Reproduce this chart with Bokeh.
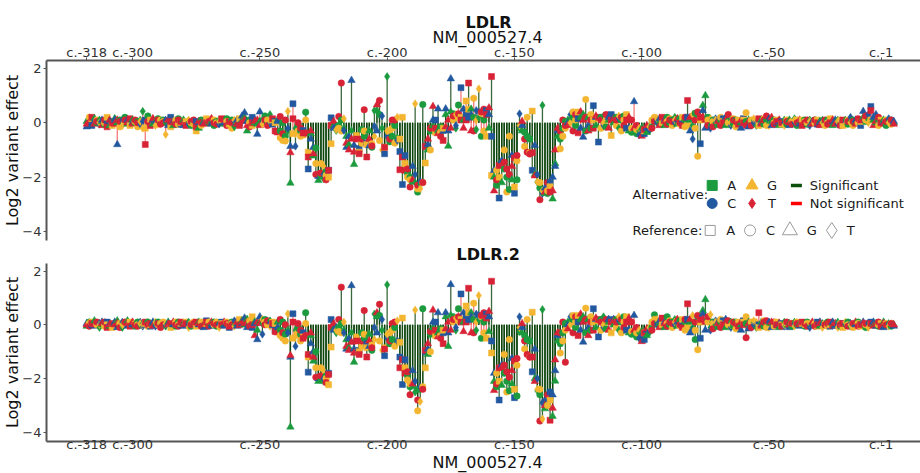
from bokeh.plotting import figure
from bokeh.models import Range1d, FixedTicker, Title, Label, ColumnDataSource
from bokeh.layouts import column
from bokeh.embed import file_html
from bokeh.resources import INLINE

# ---------------- data ----------------
positions = list(range(-318, 0))  # c.-318 ... c.-1
ref_seq = ("GCAGCTGCAG" "AGGCTCGAGC" "CTTACAGTCC" "CTGAGCCAGA" "TCCAGCGACG"
           "CCTAGCACTG" "AGGGCAGGGT" "CCTAAGCCCT" "GATCCACAGG" "CGCTCAAGTC"
           "CTGGGGAACC" "AGCTGCTATC" "CCTAAACCGT" "CTCAGCGAGC" "AGGGCTCAGA"
           "AGCTTCCAGA" "GCAGCCCGAC" "TGCCCAGTCT" "GCAGGGCCCG" "TCCAGGCGCA"
           "GACTCGAGCT" "CCAGCGCTGA" "GTCCTGAGCC" "CTGCACAGTC" "CAGGCTCTGC"
           "AGCTCCAGAC" "GCTTAGCCTG" "CAGATCGCTC" "GACCTGCAGT" "CCAGGTCATC"
           "TCGCAGCTAG" "GCAGCTCG")
bases = ["A", "C", "G", "T"]

# log2 effects, one triple per position (alternatives in A, C, G, T order, reference skipped)
ldlr_effect = [
    [0.05,-0.15,-0.05],[0.1,0.2,0.0],[-0.1,0.15,0.2],[0.15,0.05,-0.05],[0.0,0.1,0.05],
    [0.1,-0.05,0.0],[0.05,0.1,-0.1],[-0.05,0.0,0.1],[0.0,0.2,-0.15],[-0.1,0.05,0.1],
    [0.05,-0.1,0.0],[0.15,0.1,-0.05],[0.0,-0.8,0.1],[0.1,-0.15,0.05],[-0.05,0.1,-0.1],
    [0.2,0.0,0.1],[-0.05,0.1,0.0],[0.05,-0.1,0.15],[0.1,0.0,-0.05],[0.0,0.05,0.1],
    [0.05,-0.15,0.0],[0.1,-0.05,0.05],[0.42,0.05,-0.2],[0.1,-0.2,-0.8],[0.25,0.0,0.05],
    [0.0,0.1,-0.1],[-0.05,0.1,0.15],[0.05,0.0,-0.1],[0.15,-0.05,0.1],[0.0,0.1,-0.05],
    [0.1,0.05,0.0],[0.0,0.1,-0.43],[0.05,-0.1,0.1],[0.2,-0.15,0.05],[-0.1,0.05,0.0],
    [0.0,0.1,-0.05],[0.15,-0.05,0.1],[-0.05,0.0,0.05],[0.1,-0.1,0.0],[0.0,0.05,-0.1],
    [0.05,-0.05,0.1],[-0.1,0.0,0.05],[0.0,-0.05,0.1],[0.05,-0.3,-0.15],[-0.2,0.0,0.05],
    [0.1,-0.1,0.0],[0.05,0.0,-0.05],[0.1,0.15,0.0],[0.0,0.1,0.05],[0.05,-0.05,0.15],
    [-0.1,0.1,0.0],[0.05,0.0,-0.05],[0.1,-0.05,0.05],[0.0,0.1,0.15],[-0.05,0.0,0.1],
    [0.15,0.05,-0.1],[0.0,-0.05,0.05],[0.1,-0.2,0.0],[-0.15,0.05,0.1],[0.05,0.1,-0.05],
    [0.0,0.15,-0.1],[0.1,0.25,0.05],[0.2,0.37,0.1],[-0.3,0.05,-0.1],[0.1,0.0,-0.15],
    [0.2,-0.1,0.0],[0.0,0.1,0.05],[-0.05,-0.42,0.1],[0.05,0.4,-0.1],[0.1,0.0,-0.05],
    [0.25,0.05,0.1],[0.0,0.1,-0.1],[0.3,0.0,0.05],[-0.05,0.1,0.15],[0.05,0.0,-0.3],
    [0.1,0.05,-0.37],[-0.3,-0.55,0.23],[0.0,-0.65,-0.4],[-0.5,-0.67,0.1],[-0.3,-0.2,0.42],
    [-2.22,-0.87,-1.1],[0.7,-0.4,0.15],[-0.2,-0.86,-0.4],[-0.07,-0.3,0.0],[-0.3,-0.5,-0.2],
    [-0.28,-0.45,-0.38],[0.39,0.1,-0.38],[-1.7,-1.08,-1.26],[-0.4,-0.6,-0.3],[-1.22,-0.9,-1.14],
    [-0.93,-1.5,-1.9],[-2.12,-1.97,-1.9],[-1.95,-1.5,-1.85],[-2.05,-1.9,-1.6],[-1.8,-1.94,-2.1],
    [-1.75,-2.0,-1.75],[0.18,-0.77,-0.1],[-0.1,-0.2,0.05],[-0.28,-0.15,-0.25],[-0.1,-0.2,0.23],
    [0.1,-0.3,1.46],[-0.2,-0.28,0.15],[-0.5,-0.9,-0.75],[-0.8,-0.5,-1.0],[-0.3,1.56,-0.6],
    [-1.53,-0.83,-1.08],[-0.5,-0.47,-0.6],[-0.95,-1.08,-1.14],[-0.25,-0.75,-0.6],[-0.5,-0.3,0.48],
    [-0.75,-0.8,-1.26],[-0.3,-0.85,-0.6],[-0.9,-0.77,-0.85],[0.45,-0.13,-0.5],[0.45,-0.3,0.66],
    [0.3,-0.65,0.82],[-0.2,0.25,-1.0],[-1.14,-0.9,-0.9],[1.7,-0.5,-0.3],[-0.7,-0.28,-0.6],
    [-0.5,-0.2,0.1],[-0.1,-0.75,0.1],[-0.55,-0.65,0.2],[-1.06,-0.6,-1.73],[-2.27,0.2,-1.26],
    [-1.2,-1.5,-1.75],[-1.87,-2.0,-1.7],[-2.0,-2.1,-2.36],[-2.18,-1.6,-2.1],[-2.2,-1.9,0.7],
    [-2.55,-2.43,-2.3],[-2.25,-2.15,-2.43],[0.67,-2.2,-2.2],[-0.87,-1.48,-0.87],[-1.0,-0.8,-0.6],
    [-0.3,-1.0,-0.2],[-0.1,0.1,0.6],[0.1,-0.35,-0.2],[-0.3,0.51,-0.4],[-0.15,-0.35,-0.5],
    [-0.28,-0.2,-0.65],[0.3,0.51,-0.15],[-0.86,-0.3,0.1],[0.4,1.62,-0.2],[0.33,0.1,0.25],
    [-0.2,-0.1,0.3],[0.65,0.2,0.33],[1.29,0.2,0.1],[0.1,0.5,-0.2],[0.3,0.8,0.1],
    [0.2,0.5,1.46],[0.5,0.3,-0.3],[0.2,0.9,-0.3],[-0.25,0.45,0.1],[0.2,0.4,1.25],
    [-0.5,0.35,0.4],[0.1,-0.3,0.5],[0.45,-0.5,0.3],[-0.2,0.3,0.55],[-0.5,-1.94,1.7],
    [-2.0,-1.75,-2.5],[-2.3,-1.75,-2.1],[-2.77,-2.0,-1.57],[-2.2,-1.4,-1.57],[-1.7,-1.0,-1.45],
    [-2.0,-2.55,-1.7],[-2.45,-0.5,-1.9],[-2.1,-1.2,-1.6],[-2.59,-2.36,-1.3],[-2.1,-1.4,-1.2],
    [-0.2,0.33,-0.1],[-0.3,-0.1,0.05],[-0.35,-0.87,-0.6],[-0.5,0.2,-1.08],[-0.6,-1.1,-1.15],
    [-1.75,0.43,-1.1],[-1.9,-0.83,-1.95],[-2.18,-1.9,-2.18],[-2.4,-2.2,-2.83],[0.64,-2.6,-2.5],
    [-2.6,-2.4,-2.55],[-2.6,-2.5,-2.2],[-2.2,-2.35,-2.55],[-2.8,-2.0,-2.5],[-1.5,-1.6,-1.0],
    [-0.5,-0.3,-0.2],[-0.6,-0.96,-0.3],[-0.2,-0.5,0.1],[0.05,-0.2,-0.1],[0.1,0.0,-0.1],
    [0.1,0.3,0.0],[0.2,0.4,-0.3],[-0.1,0.1,0.3],[0.15,0.4,-0.37],[0.2,-0.2,0.4],
    [0.3,-0.53,0.1],[-0.3,0.86,0.2],[0.2,-0.1,-0.3],[-0.2,0.3,0.1],[0.63,0.1,-0.2],
    [-0.1,0.2,0.25],[-0.71,0.15,0.2],[0.2,-0.2,0.1],[0.25,-0.1,0.0],[-0.15,0.1,0.3],
    [0.1,0.2,-0.2],[0.3,-0.47,0.1],[0.0,0.2,0.15],[0.2,-0.1,0.1],[-0.2,0.15,0.25],
    [0.1,-0.3,0.2],[0.25,0.1,-0.1],[-0.2,0.3,0.1],[-0.3,-0.2,0.2],[-0.35,-0.2,0.1],
    [-0.3,0.78,-0.2],[-0.4,-0.25,-0.1],[-0.3,-0.45,-0.2],[-0.2,-0.35,-0.49],[-0.4,-0.3,-0.25],
    [-0.35,-0.2,-0.1],[-0.3,-0.25,-0.15],[-0.15,0.1,-0.2],[0.15,0.2,0.05],[0.1,0.0,0.15],
    [0.05,0.15,-0.1],[0.1,0.0,0.2],[-0.1,0.1,0.05],[0.2,0.05,-0.05],[0.0,0.15,0.1],
    [0.1,-0.1,0.05],[0.2,0.0,0.1],[-0.05,0.1,0.15],[0.15,-0.05,0.0],[0.0,0.2,-0.1],
    [0.1,-0.15,0.2],[0.2,-0.1,0.82],[0.1,-0.3,0.2],[-0.1,-0.6,0.3],[0.35,-0.2,0.1],
    [0.3,-1.23,0.4],[-0.77,0.1,0.2],[0.64,0.45,0.2],[1.0,-0.2,0.1],[0.2,0.1,-0.1],
    [-0.1,-0.2,0.15],[0.1,0.05,-0.15],[0.0,0.15,0.1],[-0.1,0.1,0.05],[0.1,0.2,-0.1],
    [0.15,0.05,0.0],[-0.1,0.2,0.1],[0.05,0.0,0.3],[0.1,-0.1,0.0],[-0.05,0.15,0.1],
    [0.1,-0.15,0.05],[0.05,0.1,-0.05],[0.0,-0.2,0.1],[0.15,0.1,0.0],[0.05,0.37,-0.1],
    [0.1,-0.15,0.05],[0.0,0.1,-0.1],[0.1,0.0,0.15],[-0.1,0.05,0.1],[0.0,-0.1,0.15],
    [0.1,0.0,-0.05],[-0.05,0.15,0.1],[0.1,-0.1,0.25],[0.0,0.15,-0.1],[0.05,-0.1,0.2],
    [0.1,0.0,-0.05],[0.0,0.1,0.05],[-0.1,0.05,0.1],[0.05,-0.05,0.0],[0.1,0.0,-0.1],
    [-0.05,0.1,0.05],[0.1,-0.1,0.0],[0.0,0.05,-0.05],[0.15,0.0,0.1],[-0.1,0.1,0.0],
    [0.05,-0.05,0.1],[0.0,0.1,-0.1],[0.1,0.05,0.0],[-0.05,0.0,0.1],[0.1,-0.1,0.05],
    [0.0,0.05,-0.05],[0.1,0.0,0.1],[-0.05,0.1,0.0],[0.05,0.0,-0.1],[0.1,0.05,0.0],
    [0.0,-0.1,0.1],[0.1,0.0,-0.05],[0.05,0.15,0.0],[-0.1,0.05,0.1],[0.0,0.1,-0.05],
    [0.1,-0.05,0.05],[0.05,0.1,-0.1],[0.0,-0.1,0.1],[0.1,0.0,-0.05],[-0.05,0.1,0.05],
    [0.05,0.2,0.0],[0.1,-0.1,0.05],[0.0,0.1,-0.05],[0.1,0.0,0.15],[-0.1,0.05,0.1],
    [0.2,0.42,0.1],[0.05,0.1,0.25],[0.1,0.3,0.0],[0.6,0.1,0.45],[0.1,0.2,-0.1],
    [0.0,0.3,0.05],[0.1,-0.1,0.2],[0.05,0.1,0.0],[0.1,0.0,-0.05],[-0.1,0.1,0.05],
    [0.05,0.15,0.0],[0.1,-0.05,0.1],[0.0,0.05,-0.05],
]

ldlr2_effect = [
    [-0.05,0.05,0.0],[0.1,0.05,-0.05],[0.0,0.1,0.05],[0.15,-0.05,0.0],[0.05,0.0,0.1],
    [-0.1,0.05,0.0],[0.0,0.1,0.05],[0.05,-0.05,0.1],[0.1,0.0,-0.1],[-0.05,0.05,0.0],
    [0.0,-0.1,0.05],[0.05,0.1,0.0],[0.15,-0.1,0.05],[0.0,0.05,-0.1],[-0.1,0.1,0.0],
    [0.05,0.0,0.1],[0.15,-0.05,0.05],[0.0,0.1,-0.05],[0.05,0.0,0.1],[-0.05,0.05,0.0],
    [0.1,0.0,-0.05],[0.0,0.1,0.05],[0.05,-0.05,0.0],[0.0,0.05,0.1],[0.1,-0.05,0.0],
    [-0.05,0.0,0.05],[0.05,0.1,-0.05],[0.0,-0.05,0.1],[0.1,0.0,0.05],[0.05,0.05,-0.1],
    [0.0,0.1,0.0],[-0.05,0.0,0.05],[0.1,0.05,0.0],[0.0,-0.1,0.05],[0.05,0.0,0.1],
    [-0.05,0.1,0.0],[0.1,0.0,-0.05],[0.0,0.05,0.1],[0.05,-0.05,0.0],[0.0,0.1,0.05],
    [0.1,0.0,-0.1],[-0.05,0.05,0.0],[0.05,0.1,0.05],[0.0,-0.05,0.1],[0.1,0.0,0.05],
    [0.05,0.1,-0.05],[0.0,-0.1,0.0],[0.15,0.05,0.1],[0.0,0.1,-0.05],[0.05,-0.05,0.1],
    [0.1,0.0,0.05],[-0.05,0.1,0.0],[0.05,0.0,-0.1],[0.1,0.05,0.0],[0.0,-0.05,0.1],
    [0.05,0.1,0.05],[-0.1,0.0,-0.05],[0.1,0.05,0.0],[0.0,0.15,-0.05],[0.05,-0.05,0.1],
    [0.1,0.2,0.0],[0.15,0.05,0.1],[0.0,0.25,0.05],[0.2,-0.1,0.1],[0.05,0.15,-0.05],
    [-0.1,0.3,0.0],[0.1,0.05,-0.4],[-0.2,-0.55,0.1],[0.1,0.3,0.05],[0.05,-0.35,0.2],
    [0.2,0.1,0.0],[0.1,0.0,0.15],[0.15,0.05,-0.05],[0.0,0.1,0.05],[-0.2,0.05,-0.25],
    [0.1,-0.1,-0.3],[-0.2,-0.4,0.2],[0.1,-0.5,-0.3],[-0.35,-0.6,0.0],[-0.2,-0.3,0.41],
    [-3.8,-1.2,-1.14],[0.41,-0.5,0.1],[-0.2,-0.8,-0.35],[-0.1,-0.4,0.05],[-0.35,-0.6,-0.2],
    [-0.3,-0.45,-0.5],[0.45,0.05,-0.4],[-1.76,-1.2,-1.1],[-0.4,-0.7,-0.3],[-1.35,-1.0,-1.2],
    [-1.0,-1.6,-1.95],[-2.1,-2.0,-1.95],[-2.05,-1.6,-1.9],[-2.1,-2.0,-1.7],[-1.9,-2.0,-2.15],
    [-1.8,-2.23,-1.85],[0.2,-0.83,-0.1],[-0.15,-0.2,0.05],[-0.3,-0.1,-0.2],[-0.1,-0.25,0.2],
    [0.05,-0.3,1.4],[-0.2,-0.3,0.1],[-0.55,-0.9,-0.8],[-0.85,-0.5,-0.95],[-0.3,1.46,-0.65],
    [-1.39,-0.9,-1.05],[-0.5,-0.45,-0.6],[-0.95,-1.0,-1.1],[-0.3,-0.8,-0.6],[-0.5,-0.35,0.53],
    [-0.7,-0.85,-1.2],[-0.35,-0.8,-0.6],[-0.95,-0.75,-0.85],[0.4,-0.1,-0.55],[0.3,-0.3,0.45],
    [0.35,-0.6,0.76],[-0.2,0.2,-0.95],[-1.15,-0.85,-0.9],[1.49,-0.5,-0.35],[-0.7,-0.3,-0.6],
    [-0.55,-0.2,0.05],[-0.1,-0.8,0.1],[-0.6,-0.6,0.15],[-1.2,-0.65,-1.6],[-2.22,0.25,-1.3],
    [-1.3,-1.6,-1.8],[-1.9,-2.05,-1.75],[-2.3,-2.2,-2.6],[-2.3,-1.7,-2.2],[-2.5,-2.1,0.55],
    [-2.4,-3.2,-2.8],[-2.4,-2.3,-2.85],[0.6,-2.3,-2.4],[-1.0,-1.6,-0.95],[-1.1,-0.9,-0.7],
    [-0.35,-1.0,-0.25],[-0.1,0.1,0.55],[0.1,-0.4,-0.2],[-0.3,0.45,-0.45],[-0.15,-0.4,-0.5],
    [-0.3,-0.2,-0.7],[0.3,0.45,-0.15],[-0.8,-0.3,0.1],[0.35,1.5,-0.2],[0.3,0.1,0.2],
    [-0.2,-0.1,0.25],[0.6,0.15,0.3],[1.15,0.2,0.1],[0.1,0.45,-0.25],[0.3,0.7,0.1],
    [0.2,0.45,1.36],[0.45,0.3,-0.3],[0.2,0.8,-0.3],[-0.2,0.4,0.1],[0.2,0.35,1.09],
    [-0.5,0.3,0.35],[0.1,-0.3,0.45],[0.4,-0.5,0.25],[-0.25,0.3,0.5],[-0.6,-1.05,1.62],
    [-2.1,-1.8,-2.44],[-2.3,-1.8,-2.2],[-2.8,-2.1,-1.6],[-2.25,-1.5,-1.6],[-1.8,-1.1,-1.5],
    [-2.1,-2.5,-1.75],[-2.45,-0.55,-1.95],[-2.2,-1.25,-1.7],[-2.71,-2.4,-1.35],[-2.65,-1.5,-1.25],
    [-0.25,0.3,-0.1],[-0.3,-0.1,0.05],[-0.4,-0.9,-0.6],[-0.55,0.2,-1.1],[-0.6,-1.2,-1.2],
    [-1.75,0.47,-1.2],[-2.0,-0.9,-2.1],[-2.45,-2.0,-2.4],[-2.6,-2.4,-3.58],[0.57,-2.9,-3.5],
    [-3.12,-2.8,-3.0],[-3.0,-3.0,-2.6],[-2.5,-2.8,-3.55],[-3.4,-2.6,-3.1],[-2.09,-1.7,-1.3],
    [-0.6,-0.4,-0.3],[-0.7,-1.05,-0.3],[-0.3,-0.6,0.1],[0.05,-0.2,-1.39],[0.1,0.0,-0.15],
    [0.15,0.3,0.0],[0.2,0.35,-0.3],[-0.1,0.1,0.3],[0.1,0.35,-0.4],[0.2,-0.2,0.4],
    [0.3,-0.64,0.1],[-0.3,0.62,0.2],[0.2,-0.1,-0.4],[-0.2,0.3,0.1],[0.6,0.1,-0.2],
    [-0.1,0.2,0.25],[-0.45,0.15,0.2],[0.2,-0.2,0.1],[0.3,-0.1,0.0],[-0.15,0.1,0.2],
    [0.1,0.2,-0.2],[0.2,-0.3,0.1],[0.0,0.2,0.15],[0.2,-0.1,0.1],[-0.2,0.15,0.3],
    [0.1,-0.3,0.2],[0.3,0.1,-0.1],[-0.2,0.3,0.1],[-0.3,-0.2,0.25],[-0.35,-0.25,0.1],
    [-0.3,0.35,-0.2],[-0.45,-0.3,-0.1],[-0.3,-0.5,-0.2],[-0.25,-0.4,-0.62],[-0.55,-0.3,-0.3],
    [-0.4,-0.2,-0.15],[-0.3,-0.2,-0.1],[-0.1,0.1,-0.2],[0.37,0.2,0.05],[0.1,0.0,0.2],
    [0.05,0.15,-0.1],[0.1,0.0,0.25],[-0.1,0.1,0.05],[0.3,0.05,-0.05],[0.0,0.15,0.1],
    [0.1,-0.1,0.05],[0.2,0.0,0.1],[-0.05,0.1,0.2],[0.15,-0.05,0.0],[0.0,0.2,-0.1],
    [0.1,-0.2,0.2],[0.2,-0.1,0.78],[0.1,-0.3,0.2],[-0.1,-0.2,0.35],[-0.55,-0.2,0.1],
    [0.3,-0.93,0.35],[-0.5,0.1,0.2],[0.53,0.4,0.2],[0.94,-0.2,0.1],[0.2,0.1,0.3],
    [-0.1,-0.2,0.38],[0.1,0.05,-0.15],[0.0,0.15,0.1],[-0.1,0.1,0.05],[0.1,0.2,-0.1],
    [0.15,0.05,0.0],[-0.1,0.2,0.1],[0.05,0.0,0.15],[0.1,-0.1,0.0],[-0.05,0.1,0.1],
    [0.1,-0.15,0.05],[0.05,0.1,-0.05],[0.0,-0.2,0.1],[0.15,0.1,0.0],[0.05,0.3,-0.48],
    [0.1,-0.15,0.05],[0.0,0.1,-0.1],[0.1,0.0,0.15],[-0.1,0.05,0.1],[0.0,-0.1,0.45],
    [0.1,0.0,-0.05],[-0.05,0.15,0.1],[0.1,-0.1,0.15],[0.0,0.1,-0.1],[0.05,-0.1,0.1],
    [0.05,-0.05,0.1],[0.0,0.1,0.0],[-0.1,0.05,0.05],[0.05,0.0,-0.05],[0.1,-0.05,0.0],
    [0.0,0.05,0.1],[0.05,-0.1,0.0],[-0.05,0.05,0.05],[0.1,0.0,-0.05],[0.0,0.1,0.05],
    [0.05,-0.05,0.0],[0.0,0.05,0.1],[-0.05,0.0,0.05],[0.1,0.05,-0.05],[0.0,-0.1,0.05],
    [0.05,0.0,0.1],[0.0,0.05,-0.05],[0.1,-0.05,0.0],[-0.05,0.1,0.05],[0.05,0.0,-0.1],
    [0.0,0.05,0.0],[0.1,-0.05,0.05],[-0.05,0.0,0.1],[0.05,0.1,-0.05],[0.0,-0.05,0.05],
    [0.1,0.0,-0.1],[-0.05,0.05,0.0],[0.05,-0.1,0.05],[0.0,0.05,0.1],[0.1,0.0,-0.05],
    [-0.05,0.05,0.0],[0.0,-0.1,0.05],[0.05,0.0,0.1],[0.1,0.05,-0.05],[0.0,-0.05,0.0],
    [0.05,0.1,0.05],[-0.1,0.0,0.05],[0.05,0.05,-0.1],[0.1,0.0,0.05],[0.0,0.1,-0.05],
    [0.05,-0.05,0.0],[-0.05,0.0,0.1],[0.0,0.05,-0.05],[0.1,-0.1,0.05],[0.0,0.05,0.0],
    [0.05,0.0,-0.05],[-0.05,0.05,0.05],[0.0,-0.05,0.0],
]

# significance flag per position (1 = significant)
ldlr_sig = ("0000000000" "0000000000" "0000000000" "0000000000" "0000000000"
            "0000000000" "0001000100" "0010011111" "1011111111" "1111111111"
            "1111111111" "1111111111" "1111111111" "1111111111" "1111110000"
            "1000100011" "1111111111" "1111111111" "1111111100" "0001011001"
            "0100001000" "0001101111" "1110000000" "0000001011" "1111000000"
            "0000000000" "0000000000" "0000000000" "0000000000" "0000000000"
            "0000000000" "00000000")
ldlr2_sig = ("0000000000" "0000000000" "0000000000" "0000000000" "0000000000"
             "0000000000" "0000000101" "0000111111" "1011111111" "1111111111"
             "1111111111" "1111111111" "1111111111" "1111111111" "1111110000"
             "1000100011" "1111111111" "1111111111" "1111111110" "0001011001"
             "0100000000" "0001101111" "1110000000" "0000001011" "1111000000"
             "0000000001" "0000000000" "0000000000" "0000000000" "0000000000"
             "0000000000" "00000000")

tick_positions = [-318, -300, -250, -200, -150, -100, -50, -6]
tick_labels = ["c.-318", "c.-300", "c.-250", "c.-200", "c.-150", "c.-100", "c.-50", "c.-1"]

# ---------------- styling ----------------
FONT = "DejaVu Sans"
alt_colors = {"A": "#1b9b3e", "C": "#22589f", "G": "#f4b630", "T": "#d82336"}
ref_markers = {"A": "square", "C": "circle", "G": "triangle", "T": "diamond"}
marker_sizes = {"square": 6, "circle": 6.5, "triangle": 7.5, "diamond": 8}
SIG_COLOR = "#0a420a"
NS_COLOR = "#f02020"
AXIS_COLOR = "#555555"
TEXT_COLOR = "#333333"


def build_source(effect, sig):
    d = dict(x=[], y=[], y0=[], color=[], marker=[], size=[], line_color=[], line_alpha=[])
    for i, pos in enumerate(positions):
        ref = ref_seq[i]
        alts = [b for b in bases if b != ref]
        for k, alt in enumerate(alts):
            v = effect[i][k]
            d["x"].append(pos)
            d["y"].append(v)
            d["y0"].append(0.0)
            d["color"].append(alt_colors[alt])
            m = ref_markers[ref]
            d["marker"].append(m)
            d["size"].append(marker_sizes[m])
            s = sig[i] == "1"
            d["line_color"].append(SIG_COLOR if s else NS_COLOR)
            d["line_alpha"].append(0.8 if s else 0.6)
    return ColumnDataSource(d)


def style_axes(p, x_standoff):
    for ax in (p.xaxis[0], p.yaxis[0]):
        ax.axis_line_color = AXIS_COLOR
        ax.axis_line_width = 2
        ax.major_tick_line_color = AXIS_COLOR
        ax.major_tick_line_width = 1
        ax.major_tick_out = 3
        ax.major_tick_in = 0
        ax.minor_tick_line_color = None
        ax.major_label_text_font = FONT
        ax.major_label_text_font_size = "13px"
        ax.major_label_text_color = TEXT_COLOR
    p.xaxis.ticker = FixedTicker(ticks=tick_positions)
    p.xaxis.major_label_overrides = dict(zip(tick_positions, tick_labels))
    p.xaxis.major_label_standoff = x_standoff
    p.yaxis.ticker = FixedTicker(ticks=[-4, -2, 0, 2])
    p.yaxis.major_label_standoff = 2
    p.yaxis.axis_label = "Log2 variant effect"
    p.yaxis.axis_label_text_font = FONT
    p.yaxis.axis_label_text_font_size = "16px"
    p.yaxis.axis_label_text_font_style = "normal"
    p.yaxis.axis_label_text_color = "#111111"
    p.yaxis.axis_label_standoff = -3
    p.xgrid.visible = False
    p.ygrid.visible = False
    p.outline_line_color = None
    p.background_fill_color = "white"
    p.border_fill_color = "white"


def draw_data(p, src):
    p.segment(x0="x", y0="y0", x1="x", y1="y", source=src, line_color="line_color",
              line_alpha="line_alpha", line_width=1.3)
    p.scatter(x="x", y="y", source=src, marker="marker", size="size",
              fill_color="color", line_color="color", line_width=0.5)


def make_title(text, bold, offset, standoff):
    return Title(text=text, align="left", offset=offset, standoff=standoff,
                 text_font=FONT, text_font_size="16px",
                 text_font_style="bold" if bold else "normal", text_color="#111111")


X_RANGE = (-333.8, 9.5)

# ---------------- top panel ----------------
p1 = figure(width=920, height=242, x_range=Range1d(*X_RANGE), y_range=Range1d(-4.33, 2.29),
            output_backend="svg", toolbar_location=None, x_axis_location="above",
            min_border_left=43, min_border_right=0, min_border_top=60, min_border_bottom=2)
style_axes(p1, -2)
draw_data(p1, build_source(ldlr_effect, ldlr_sig))
p1.add_layout(make_title("NM_000527.4", False, 386, -11), "above")
p1.add_layout(make_title("LDLR", True, 419, 0), "above")


# legend (drawn in the top panel's data space)
def px2x(px):
    return (px - 83.3) / 2.555 - 318


def py2y(py):
    return (122.3 - py) / 27.2


def legend_text(txt, px, py, size="13px"):
    p1.add_layout(Label(x=px2x(px), y=py2y(py), text=txt, text_font=FONT, text_font_size=size,
                        text_color="#1a1a1a", text_align="left", text_baseline="middle"))


r1, r2, r3 = 185, 203, 230
legend_text("Alternative:", 631, 194)
p1.scatter([px2x(711)], [py2y(r1)], marker="square", size=10, color=alt_colors["A"])
legend_text("A", 726, r1)
p1.scatter([px2x(751)], [py2y(r1)], marker="triangle", size=12, color=alt_colors["G"])
legend_text("G", 766, r1)
p1.segment([px2x(790)], [py2y(r1)], [px2x(801)], [py2y(r1)], line_color="#0b4f0b", line_width=3.5)
legend_text("Significant", 809, r1)
p1.scatter([px2x(711)], [py2y(r2)], marker="circle", size=10, color=alt_colors["C"])
legend_text("C", 726, r2)
p1.scatter([px2x(751)], [py2y(r2)], marker="diamond", size=10, color=alt_colors["T"])
legend_text("T", 767, r2)
p1.segment([px2x(790)], [py2y(r2)], [px2x(801)], [py2y(r2)], line_color="#ff0000", line_width=3.5)
legend_text("Not significant", 809, r2)
legend_text("Reference:", 631, r3)
p1.scatter([px2x(709)], [py2y(r3)], marker="square", size=10, fill_color=None, line_color="#9a9a9a")
legend_text("A", 725, r3)
p1.scatter([px2x(749)], [py2y(r3)], marker="circle", size=11, fill_color=None, line_color="#9a9a9a")
legend_text("C", 765, r3)
p1.scatter([px2x(789)], [py2y(r3)], marker="triangle", size=15, fill_color=None, line_color="#9a9a9a")
legend_text("G", 806, r3)
p1.scatter([px2x(831)], [py2y(r3)], marker="diamond", size=16, fill_color=None, line_color="#9a9a9a")
legend_text("T", 846, r3)

# ---------------- bottom panel ----------------
p2 = figure(width=920, height=231, x_range=Range1d(*X_RANGE), y_range=Range1d(-4.34, 2.28),
            output_backend="svg", toolbar_location=None, x_axis_location="below",
            min_border_left=43, min_border_right=0, min_border_top=21, min_border_bottom=32)
style_axes(p2, -8)
draw_data(p2, build_source(ldlr2_effect, ldlr2_sig))
p2.add_layout(make_title("LDLR.2", True, 410, 0), "above")
p2.add_layout(make_title("NM_000527.4", False, 386, -8), "below")

layout = column(p1, p2, spacing=0)
open("out.html", "w").write(file_html(layout, INLINE))
